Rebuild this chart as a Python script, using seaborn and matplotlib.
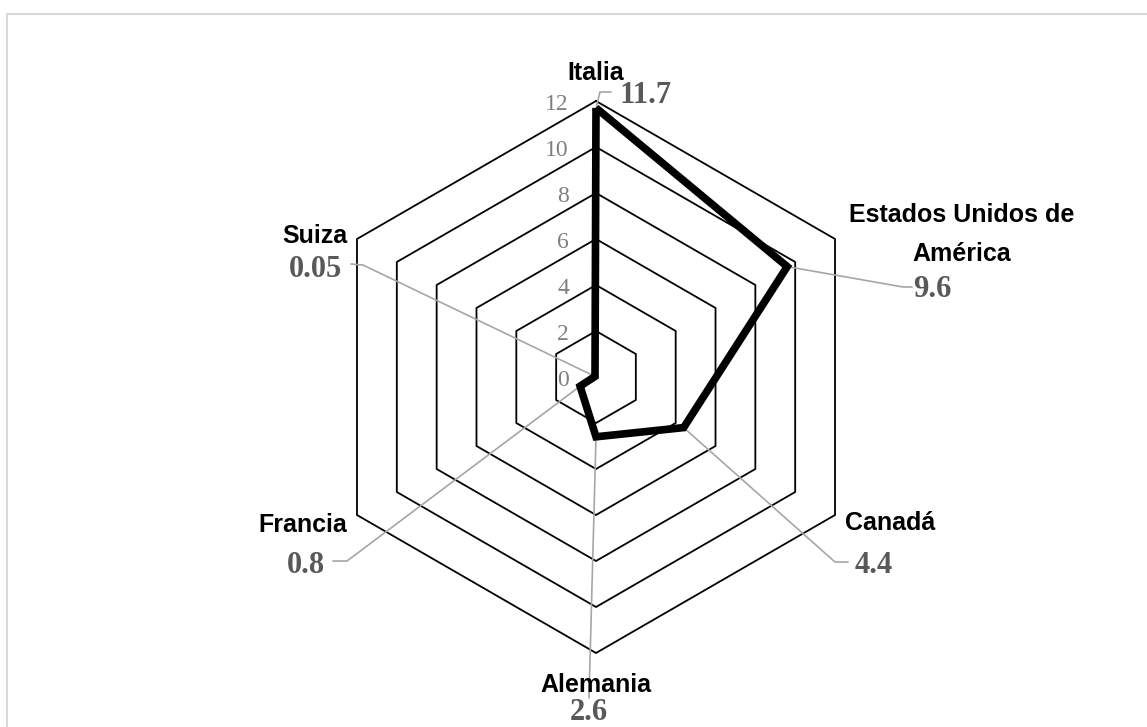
import numpy as np
import pandas as pd
import matplotlib
matplotlib.use("Agg")
import matplotlib.pyplot as plt
from matplotlib.lines import Line2D
import seaborn as sns

# ---- data ----
categories = ["Italia", "Estados Unidos de América", "Canadá", "Alemania", "Francia", "Suiza"]
values = [11.7, 9.6, 4.4, 2.6, 0.8, 0.05]
value_labels = ["11.7", "9.6", "4.4", "2.6", "0.8", "0.05"]
radial_ticks = [0, 2, 4, 6, 8, 10, 12]

sns.set_theme(style="white")
plt.rcParams["font.family"] = ["Liberation Sans", "DejaVu Sans"]

W, H = 1147, 727
fig = plt.figure(figsize=(W / 100, H / 100), dpi=100)
ax = fig.add_axes([0, 0, 1, 1])

# layout: pixel geometry
CX, CY, PPU = 596.0, 377.0, 23.0   # centre (px) and pixels per unit
ax.set_xlim(-CX / PPU, (W - CX) / PPU)
ax.set_ylim(-(H - CY) / PPU, CY / PPU)
ax.set_aspect("equal")
ax.axis("off")


def P(xp, yp):
    """pixel position (from top-left) -> data coordinates (layout only)"""
    return (xp - CX) / PPU, (CY - yp) / PPU


n = len(categories)
theta = np.arange(n) * 2 * np.pi / n  # clockwise from top


def xy(r, t):
    return np.asarray(r) * np.sin(t), np.asarray(r) * np.cos(t)


# hexagonal grid
tt = np.append(theta, theta[0])
for r in radial_ticks[1:]:
    gx, gy = xy(np.full(len(tt), r), tt)
    ax.plot(gx, gy, color="black", lw=1.3, zorder=1, solid_joinstyle="miter")

# radial tick labels
for r in radial_ticks:
    x0, y0 = xy(r, 0.0)
    ax.text(x0 - 27 / PPU, y0 - 9 / PPU, str(r), ha="right", va="baseline",
            family="Liberation Serif", fontsize=17, color="#7f7f7f", zorder=3)

# data polygon
vx, vy = xy(np.append(values, values[0]), tt)
df = pd.DataFrame({"x": vx, "y": vy, "order": np.arange(len(vx))})
sns.lineplot(data=df, x="x", y="y", sort=False, color="black", lw=5.5, ax=ax,
             zorder=4, estimator=None)
for l in ax.lines[-1:]:
    l.set_solid_joinstyle("miter")
    l.set_solid_capstyle("butt")

# labels layout (pixel coordinates)
cat_layout = [
    dict(pos=(596, 80), ha="center"),
    dict(pos=None, ha=None),
    dict(pos=(845, 530), ha="left"),
    dict(pos=(596, 692), ha="center"),
    dict(pos=(347, 532), ha="right"),
    dict(pos=(347, 243), ha="right"),
]
val_layout = [
    dict(pos=(620, 103), ha="left", elbow=[(600, 92), (611, 92)]),
    dict(pos=(913, 297), ha="left", elbow=[(903, 287), (912, 287)]),
    dict(pos=(855, 573), ha="left", elbow=[(835, 562), (848, 562)]),
    dict(pos=(589, 720), ha="center", elbow=[(589, 698)]),
    dict(pos=(325, 573), ha="right", elbow=[(347, 561), (333, 561)]),
    dict(pos=(342, 277), ha="right", elbow=[(363, 265), (351, 264)]),
]

for i, cat in enumerate(categories):
    c = cat_layout[i]
    if i == 1:
        ax.text(*P(962, 222), "Estados Unidos de", ha="center", va="baseline",
                fontsize=18, fontweight="bold", color="black", zorder=5)
        ax.text(*P(962, 261), "América", ha="center", va="baseline",
                fontsize=18, fontweight="bold", color="black", zorder=5)
    else:
        ax.text(*P(*c["pos"]), cat, ha=c["ha"], va="baseline",
                fontsize=18, fontweight="bold", color="black", zorder=5)

    v = val_layout[i]
    px_, py_ = xy(values[i], theta[i])
    pts = [(px_, py_)] + [P(*e) for e in v["elbow"]]
    lx, ly = zip(*pts)
    ax.plot(lx, ly, color="#a6a6a6", lw=1.2, zorder=2)
    ax.text(*P(*v["pos"]), value_labels[i], ha=v["ha"], va="baseline",
            family="Liberation Serif", fontsize=22, fontweight="bold",
            color="#595959", zorder=5)

# outer chart border (top and left visible)
fig.add_artist(Line2D([7 / W, 1], [1 - 14 / H, 1 - 14 / H], transform=fig.transFigure,
                      color="#d9d9d9", lw=1.5))
fig.add_artist(Line2D([7 / W, 7 / W], [0, 1 - 14 / H], transform=fig.transFigure,
                      color="#d9d9d9", lw=1.5))

fig.savefig("out.png", dpi=100, facecolor="white")
